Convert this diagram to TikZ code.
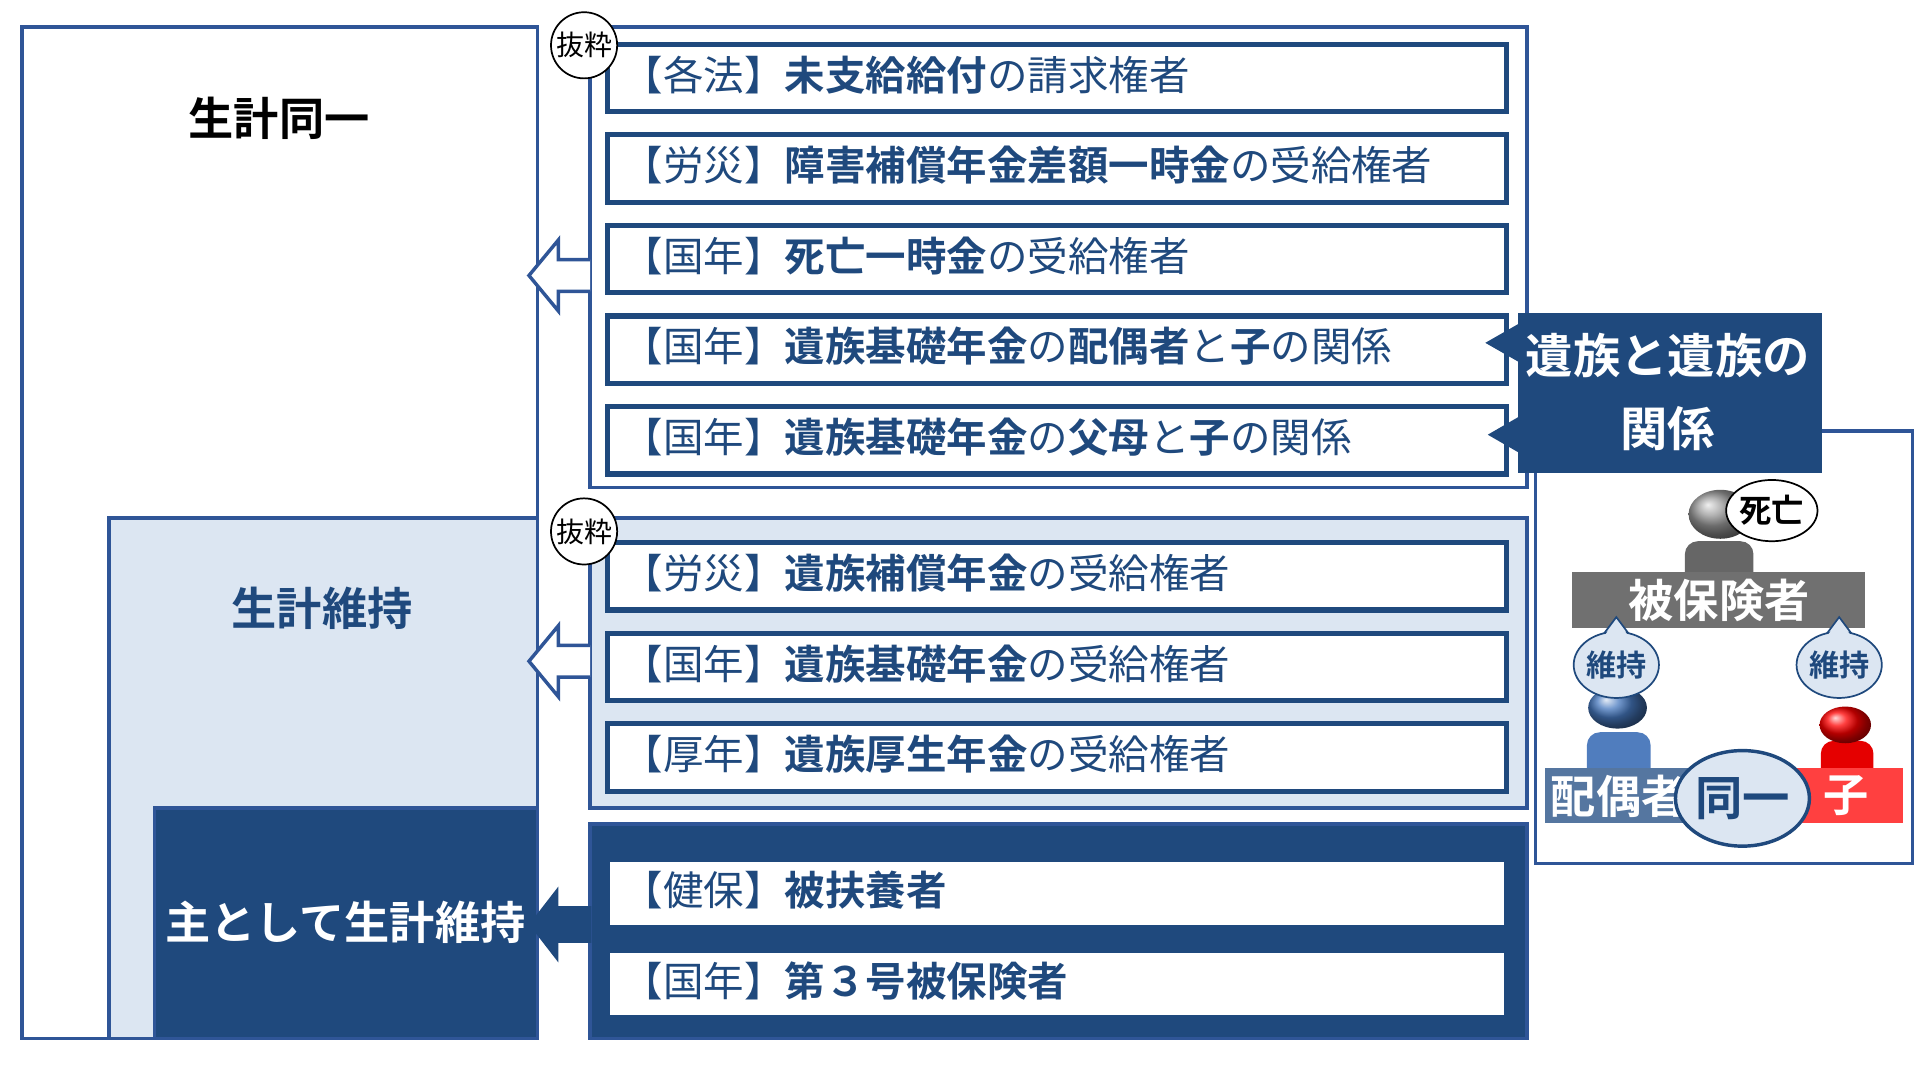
\documentclass[tikz,border=0pt]{standalone}
\usepackage{fontspec}
\setmainfont{Noto Sans CJK JP}
\newfontfamily\jpb[FakeBold=0]{Noto Sans CJK JP Bold}
\usetikzlibrary{shapes.geometric,shapes.callouts}
\definecolor{navy}{HTML}{1F497D}
\definecolor{lblue}{HTML}{DCE6F2}
\definecolor{frame}{HTML}{2F5597}
\tikzset{
 rowbox/.style={draw=navy,line width=1.2pt,fill=white,minimum width=7.34cm,minimum height=0.55cm,anchor=north west,inner sep=0pt},
 rowtxt/.style={anchor=west,text=navy,font=\fontsize{9.4}{11}\selectfont,inner sep=0pt},
 bassui/.style={circle,draw=black,fill=white,minimum size=0.54cm,inner sep=0pt,font=\fontsize{6.5}{7}\selectfont},
 grp/.style={draw=frame,line width=0.8pt},
 bigtxt/.style={font=\jpb\fontsize{10.5}{12}\selectfont,inner sep=0pt},
 ijiell/.style={ellipse,draw=navy,fill=lblue,minimum width=0.64cm,minimum height=0.54cm,inner sep=0pt,font=\jpb\fontsize{7}{8}\selectfont,text=navy}
}
\newcommand{\B}[1]{{\jpb #1}}
\begin{document}
\begin{tikzpicture}[x=0.01cm,y=-0.01cm]
\useasboundingbox (0,0) rectangle (1568,882);
% left nested boxes
\draw[grp,fill=white] (18,22) rectangle (439,848);
\node[bigtxt] (t1) at (228,97) {生計同一};
\draw[grp,fill=lblue] (89,423) rectangle (439,848);
\node[bigtxt,text=navy] (t2) at (263,497) {生計維持};
\draw[grp,fill=navy] (126,660) rectangle (439,848);
\node[bigtxt,text=white] (t3) at (282,753) {主として生計維持};
% groups
\draw[grp,fill=white] (482,22) rectangle (1247,398);
\draw[grp,fill=lblue] (482,423) rectangle (1247,660);
\draw[grp,fill=navy] (482,673) rectangle (1247,848);
% rows
\foreach \y/\n/\t in {34/r1/{【各法】\B{未支給給付}の請求権者},
 108/r2/{【労災】\B{障害補償年金差額一時金}の受給権者},
 182/r3/{【国年】\B{死亡一時金}の受給権者},
 256/r4/{【国年】\B{遺族基礎年金}の\B{配偶者}と\B{子}の関係},
 330/r5/{【国年】\B{遺族基礎年金}の\B{父母}と\B{子}の関係},
 441/r6/{【労災】\B{遺族補償年金}の受給権者},
 515/r7/{【国年】\B{遺族基礎年金}の受給権者},
 589/r8/{【厚年】\B{遺族厚生年金}の受給権者},
 700/r9/{【健保】\B{被扶養者}},
 774/r10/{【国年】\B{第３号被保険者}}}{
 \node[rowbox] (\n) at (494,\y) {};
 \node[rowtxt] (\n t) at (508,\y+27) {\t};
}
\node[bassui] (b1) at (477,37) {抜粋};
\node[bassui] (b2) at (477,434) {抜粋};
% hollow arrows
\draw[draw=frame,line width=0.8pt,fill=white] (482,212)--(456,212)--(456,196)--(432,225)--(456,254)--(456,238)--(482,238);
\draw[draw=frame,line width=0.8pt,fill=white] (482,527)--(456,527)--(456,511)--(432,540)--(456,569)--(456,553)--(482,553);
\fill[navy] (483,740)--(456,740)--(456,724)--(432,755)--(456,786)--(456,770)--(483,770)--cycle;
% callout
\fill[navy] (1240,256) rectangle (1488,386);
\fill[navy] (1241,264)--(1213,280)--(1241,296)--cycle;
\fill[navy] (1241,340)--(1215,355)--(1241,370)--cycle;
\node[bigtxt,text=white,align=center,font=\jpb\fontsize{11}{17}\selectfont] (co) at (1362,320) {遺族と遺族の\\関係};
% right frame
\draw[grp] (1488,352)--(1562,352)--(1562,705)--(1254,705)--(1254,386);
% insured person (grey)
\fill[gray!80!black,rounded corners=3pt] (1376,442) rectangle (1432,480);
\shade[ball color=gray!80] (1405,420) ellipse (26 and 20);
\node[ellipse,draw=black,fill=white,minimum width=0.62cm,minimum height=0.5cm,inner sep=0pt,font=\jpb\fontsize{7.5}{8}\selectfont] (death) at (1447,417) {死亡};
\fill[gray!110!black,fill=black!56] (1284,467) rectangle (1523,513);
\node[bigtxt,text=white] (ins) at (1404,490) {被保険者};
% spouse (blue)
\fill[blue!40!navy!70!white,rounded corners=3pt,fill={rgb,255:red,80;green,125;blue,190}] (1296,598) rectangle (1348,640);
\shade[ball color={rgb,255:red,70;green,120;blue,190}] (1321,578) ellipse (24 and 17);
% child (red)
\fill[red!90!black,rounded corners=3pt] (1487,605) rectangle (1530,640);
\shade[ball color=red] (1507,592) ellipse (21 and 15);
\fill[fill={rgb,255:red,85;green,118;blue,160}] (1262,627) rectangle (1400,672);
\node[bigtxt,text=white] (sp) at (1322,650) {配偶者};
\fill[fill={rgb,255:red,255;green,64;blue,64}] (1462,627) rectangle (1554,672);
\node[bigtxt,text=white] (ch) at (1508,650) {子};
\node[ellipse,draw=navy,line width=0.8pt,fill=lblue,minimum width=0.86cm,minimum height=0.78cm,inner sep=0pt,font=\jpb\fontsize{11}{12}\selectfont,text=navy] (same) at (1423,652) {同一};
% iji callouts
\foreach \x/\n in {1320/i1,1502/i2}{
 \draw[navy,fill=lblue] (\x-12,520)--(\x,504)--(\x+12,520);
 \node[ijiell] (\n) at (\x,543) {維持};
 \fill[lblue] (\x-11,521)--(\x,506)--(\x+11,521)--cycle;
}
\end{tikzpicture}
\end{document}
